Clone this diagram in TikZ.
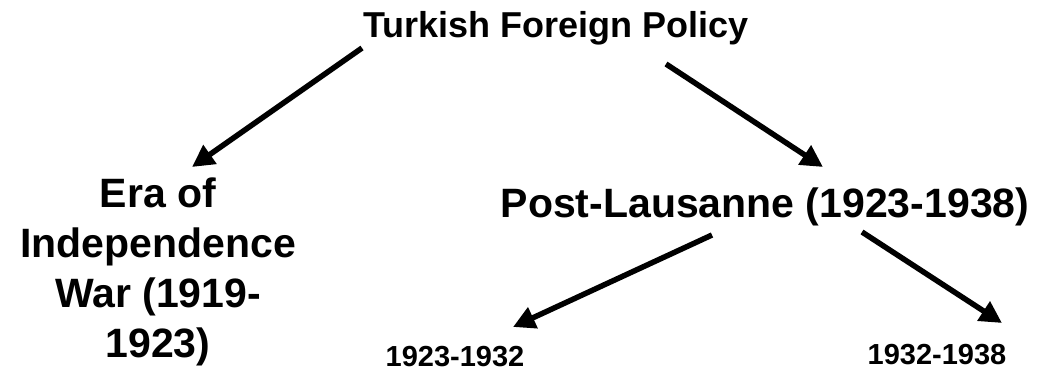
\documentclass[tikz,border=0pt]{standalone}
\usepackage{fontspec}
\setmainfont{Liberation Sans}
\usetikzlibrary{arrows.meta}
\begin{document}
\begin{tikzpicture}[x=1pt,y=1pt,
  lbl/.style={font=\bfseries\fontsize{41}{50}\selectfont, align=center, inner sep=0pt},
  toplbl/.style={font=\bfseries\fontsize{36}{43}\selectfont, inner sep=0pt},
  sublbl/.style={font=\bfseries\fontsize{29}{35}\selectfont, inner sep=0pt},
  arr/.style={line width=5.5pt, -{Triangle[length=22pt,width=22pt]}}]
\useasboundingbox (0,0) rectangle (1049,374);
\node[toplbl] (root) at (556,346) {Turkish Foreign Policy};
\node[lbl] (era) at (158,102) {Era of\\Independence\\War (1919-\\1923)};
\node[lbl] (post) at (765,167) {Post-Lausanne (1923-1938)};
\node[sublbl] (p1) at (455,17) {1923-1932};
\node[sublbl] (p2) at (937,19) {1932-1938};
\coordinate (a1s) at (362,326);
\coordinate (a1e) at (192,207);
\coordinate (a2s) at (666,310);
\coordinate (a2e) at (823,207);
\coordinate (a3s) at (712,139);
\coordinate (a3e) at (513,47);
\coordinate (a4s) at (862,142);
\coordinate (a4e) at (1002,51);
\draw[arr] (a1s) -- (a1e);
\draw[arr] (a2s) -- (a2e);
\draw[arr] (a3s) -- (a3e);
\draw[arr] (a4s) -- (a4e);
\end{tikzpicture}
\end{document}
